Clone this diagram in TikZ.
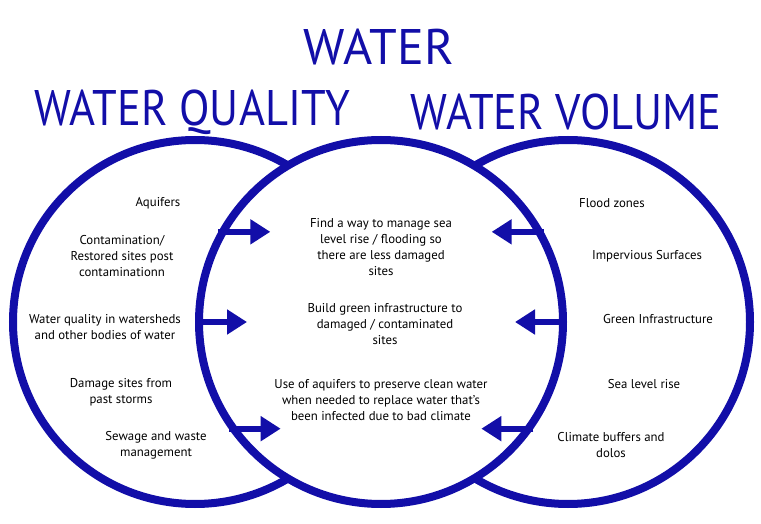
\documentclass[tikz,border=0pt]{standalone}
\usepackage{fontspec}
\setmainfont{PT Sans}
\newfontfamily\narrowhead[FakeStretch=0.89]{PT Sans}
\usepackage{tikz}
\usetikzlibrary{arrows.meta}
\definecolor{vennblue}{RGB}{18,14,168}

\begin{document}
\begin{tikzpicture}[x=1pt,y=-1pt,
    ring/.style={circle,draw=vennblue,line width=8pt,minimum size=364pt,inner sep=0pt},
    title/.style={text=vennblue,font=\fontsize{50}{50}\selectfont,inner sep=0pt},
    subtitle/.style={text=vennblue,font=\narrowhead\fontsize{50}{50}\selectfont,inner sep=0pt},
    item/.style={align=center,font=\fontsize{12.8}{16}\selectfont,inner sep=0pt},
    push/.style={draw=vennblue,line width=6pt,-{Triangle[length=20pt,width=24pt]}}]
    \useasboundingbox (0,0) rectangle (761,524);
    \node[ring] (qual) at (195,322) {};
    \node[ring] (vol) at (568,322) {};
    \node[ring,fill=white] (mid) at (381,322) {};

    \node[title] (water) at (379,47) {WATER};
    \node[subtitle] (qualtitle) at (192,112) {WATER QUALITY};
    \node[subtitle] (voltitle) at (566,112) {WATER VOLUME};

    \node[item] (aquif) at (158,203) {Aquifers};
    \node[item] (contam) at (122,256) {Contamination/\\Restored sites post\\contaminationn};
    \node[item] (sheds) at (105,327) {Water quality in watersheds\\and other bodies of water};
    \node[item] (storms) at (121,392) {Damage sites from\\past storms};
    \node[item] (sewage) at (156,445) {Sewage and waste\\management};

    \node[item] (flooding) at (381,247) {Find a way to manage sea\\level rise / flooding so\\there are less damaged\\sites};
    \node[item] (green) at (385,324) {Build green infrastructure to\\damaged / contaminated\\sites};
    \node[item] (clean) at (381,400) {Use of aquifers to preserve clean water\\when needed to replace water that's\\been infected due to bad climate};

    \node[item] (zones) at (612,203) {Flood zones};
    \node[item] (imperv) at (647,256) {Impervious Surfaces};
    \node[item] (greeninf) at (658,319) {Green Infrastructure};
    \node[item] (sealevel) at (644,384) {Sea level rise};
    \node[item] (buffers) at (611,445) {Climate buffers and\\dolos};

    \draw[push] (mid.151) -- ++(52,0);
    \draw[push] (mid.180) -- ++(52,0);
    \draw[push] (mid.215) -- ++(52,0);
    \draw[push] (mid.29) -- ++(-52,0);
    \draw[push] (mid.0) -- ++(-52,0);
    \draw[push] (mid.-35) -- ++(-52,0);
\end{tikzpicture}
\end{document}
